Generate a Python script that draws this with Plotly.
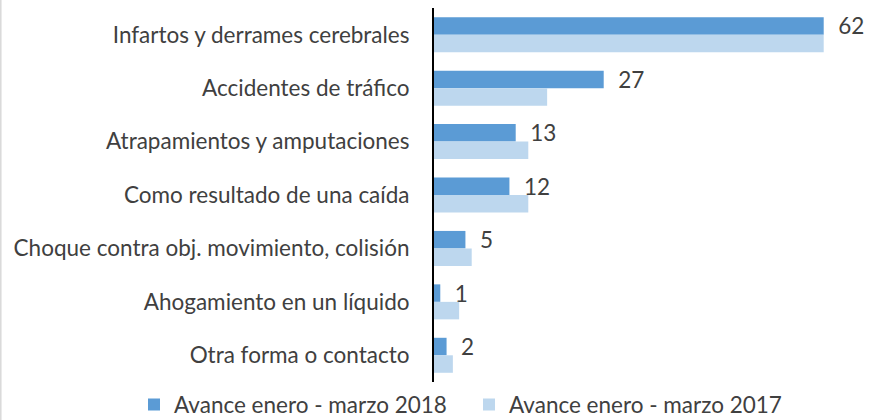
import plotly.graph_objects as go

categories = ["Infartos y derrames cerebrales", "Accidentes de tráfico", "Atrapamientos y amputaciones",
              "Como resultado de una caída", "Choque contra obj. movimiento, colisión",
              "Ahogamiento en un líquido", "Otra forma o contacto"]
values_2018 = [62, 27, 13, 12, 5, 1, 2]
values_2017 = [62, 18, 15, 15, 6, 4, 3]
series_names = ["Avance enero - marzo 2018", "Avance enero - marzo 2017"]

FONT = "Lato"
TXT = "#404040"
FS = 22.5

fig = go.Figure()
fig.add_trace(go.Bar(y=categories, x=values_2018, orientation="h", name=series_names[0],
                     marker=dict(color="#5B9BD5", line=dict(width=0)),
                     texttemplate="  %{x}", textposition="outside", constraintext="none",
                     textfont=dict(family=FONT, size=FS, color=TXT), cliponaxis=False))
fig.add_trace(go.Bar(y=categories, x=values_2017, orientation="h", name=series_names[1],
                     marker=dict(color="#BDD7EE", line=dict(width=0))))

fig.update_layout(
    width=881, height=420,
    barmode="group", bargap=0.345, bargroupgap=0,
    paper_bgcolor="white", plot_bgcolor="white",
    margin=dict(l=434, r=7, t=8, b=38, pad=0, autoexpand=False),
    font=dict(family=FONT, size=FS, color=TXT),
    xaxis=dict(range=[0, 70], visible=False, showgrid=False, zeroline=False),
    yaxis=dict(autorange="reversed", showline=True, linecolor="black", linewidth=2,
               ticks="", ticklabelstandoff=18, showgrid=False, automargin=False,
               tickfont=dict(family=FONT, size=FS, color=TXT)),
    legend=dict(orientation="h", xref="paper", x=-300 / 440, xanchor="left",
                yref="paper", y=-0.004, yanchor="top",
                font=dict(family=FONT, size=FS, color=TXT), itemwidth=30,
                entrywidth=290, entrywidthmode="pixels",
                traceorder="normal", bgcolor="rgba(0,0,0,0)"),
    showlegend=True,
    shapes=[dict(type="line", xref="paper", yref="paper",
                 x0=-433.2 / 440, x1=-433.2 / 440, y0=-38 / 374, y1=1 + 8 / 374,
                 line=dict(color="#D9D9D9", width=1.5))],
)
fig.write_html("out.html", config={"displayModeBar": False},
               post_script="document.body.style.margin='0px';")
